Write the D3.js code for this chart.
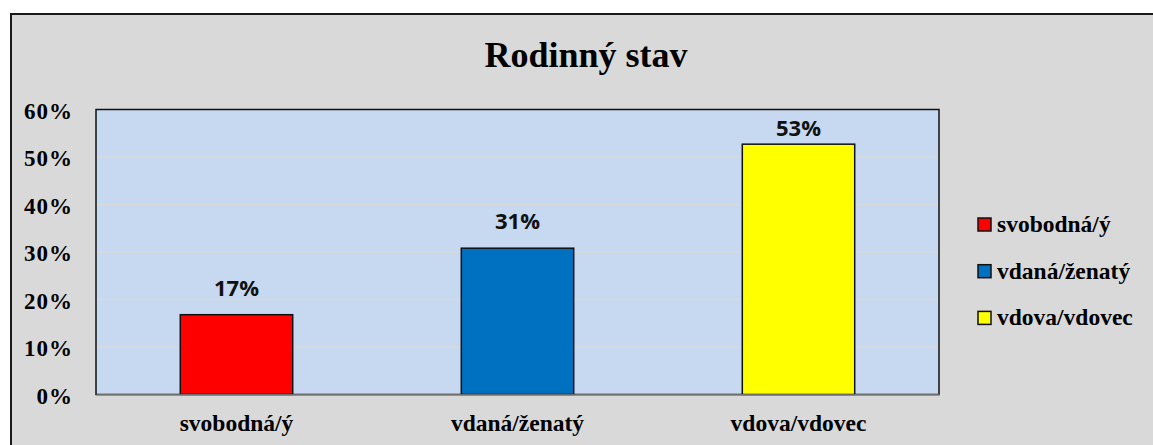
<!DOCTYPE html>
<html>
<head>
<meta charset="utf-8">
<script src="https://cdn.jsdelivr.net/npm/d3@7"></script>
<style>
  html, body { margin: 0; padding: 0; background: #ffffff; }
  svg { display: block; }
</style>
</head>
<body>
<script>
var categories = ["svobodná/ý", "vdaná/ženatý", "vdova/vdovec"];
var values = [0.168, 0.308, 0.527];
var labels = ["17%", "31%", "53%"];
var colors = ["#ff0000", "#0070c0", "#ffff00"];
var yTicks = [0, 0.1, 0.2, 0.3, 0.4, 0.5, 0.6];
var title = "Rodinný stav";

var W = 1153, H = 445;
var plot = {left: 96, top: 109.5, right: 939, bottom: 394.5};
var serif = "Liberation Serif, Times New Roman, serif";

var svg = d3.select("body").append("svg")
    .attr("width", W)
    .attr("height", H);

// chart area
svg.append("rect")
    .attr("x", 11).attr("y", 14)
    .attr("width", W + 10).attr("height", H + 10)
    .attr("fill", "#d9d9d9")
    .attr("stroke", "#1a1a1a")
    .attr("stroke-width", 2);

svg.append("text")
    .attr("x", 586).attr("y", 67)
    .attr("text-anchor", "middle")
    .style("font-family", serif)
    .style("font-weight", "bold")
    .style("font-size", "36px")
    .attr("fill", "#000")
    .text(title);

var x = d3.scaleBand()
    .domain(categories)
    .range([plot.left, plot.right])
    .paddingInner(0.6)
    .paddingOuter(0.3);

var y = d3.scaleLinear()
    .domain([0, 0.6])
    .range([plot.bottom, plot.top]);

// plot area
svg.append("rect")
    .attr("x", plot.left).attr("y", plot.top)
    .attr("width", plot.right - plot.left)
    .attr("height", plot.bottom - plot.top)
    .attr("fill", "#c6d9f0")
    .attr("stroke", "#111")
    .attr("stroke-width", 1.5);

svg.append("g")
    .selectAll("line")
    .data(yTicks.filter(function(d){ return d > 0 && d < 0.6; }))
    .join("line")
    .attr("x1", plot.left + 1).attr("x2", plot.right - 1)
    .attr("y1", function(d){ return y(d); })
    .attr("y2", function(d){ return y(d); })
    .attr("stroke", "#d9d9d9")
    .attr("stroke-width", 1.5);

// y axis
var yAxis = svg.append("g")
    .attr("transform", "translate(" + plot.left + ",0)")
    .call(d3.axisLeft(y).tickValues(yTicks).tickSize(0).tickPadding(23)
        .tickFormat(function(d){ return Math.round(d * 100) + "%"; }));
yAxis.select(".domain").remove();
yAxis.selectAll("text")
    .style("font-family", serif)
    .style("font-weight", "bold")
    .style("font-size", "23px")
    .style("letter-spacing", "1px")
    .attr("fill", "#000")
    .attr("dy", "0.38em");

// bars
svg.append("g")
    .selectAll("rect")
    .data(values)
    .join("rect")
    .attr("x", function(d, i){ return x(categories[i]); })
    .attr("y", function(d){ return y(d); })
    .attr("width", x.bandwidth())
    .attr("height", function(d){ return plot.bottom - y(d); })
    .attr("fill", function(d, i){ return colors[i]; })
    .attr("stroke", "#111")
    .attr("stroke-width", 1.5);

// x axis
var xAxis = svg.append("g")
    .attr("transform", "translate(0," + plot.bottom + ")")
    .call(d3.axisBottom(x).tickSize(0).tickPadding(20));
xAxis.select(".domain")
    .attr("stroke", "#8c8c8c")
    .attr("stroke-width", 1.5);
xAxis.selectAll("text")
    .style("font-family", serif)
    .style("font-weight", "bold")
    .style("font-size", "23.5px")
    .attr("fill", "#000");

// data labels (kept inside the plot area, like Excel does)
svg.append("g")
    .selectAll("text")
    .data(values)
    .join("text")
    .attr("x", function(d, i){ return x(categories[i]) + x.bandwidth() / 2; })
    .attr("y", function(d){ return Math.max(y(d) - 19, plot.top + 26); })
    .attr("text-anchor", "middle")
    .style("font-family", "Open Sans, sans-serif")
    .style("font-weight", "bold")
    .style("font-size", "22px")
    .attr("fill", "#111")
    .text(function(d, i){ return labels[i]; });

// legend
var legend = svg.append("g")
    .selectAll("g")
    .data(categories)
    .join("g")
    .attr("transform", function(d, i){ return "translate(978," + (218 + i * 46.7) + ")"; });
legend.append("rect")
    .attr("width", 13).attr("height", 13)
    .attr("fill", function(d, i){ return colors[i]; })
    .attr("stroke", "#111")
    .attr("stroke-width", 1.5);
legend.append("text")
    .attr("x", 19).attr("y", 14)
    .style("font-family", serif)
    .style("font-weight", "bold")
    .style("font-size", "23.5px")
    .attr("fill", "#000")
    .text(function(d){ return d; });
</script>
</body>
</html>
